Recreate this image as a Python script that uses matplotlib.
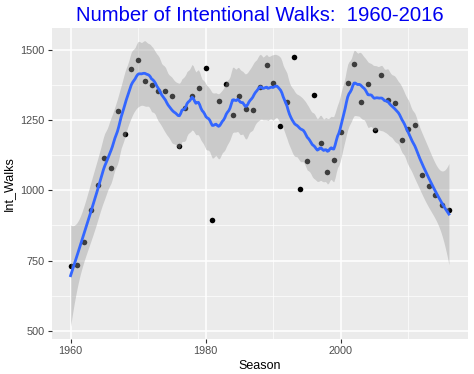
import numpy as np
import matplotlib.pyplot as plt
from matplotlib.ticker import MultipleLocator, FixedLocator

seasons = np.arange(1960, 2017)
int_walks = np.array([
    729, 734, 817, 929, 1018, 1115, 1079, 1283, 1201, 1432,
    1463, 1390, 1374, 1355, 1353, 1337, 1158, 1295, 1337, 1366,
    1436, 894, 1318, 1379, 1269, 1337, 1288, 1286, 1367, 1447,
    1384, 1228, 1316, 1476, 1006, 1104, 1341, 1168, 1066, 1107,
    1209, 1384, 1451, 1315, 1380, 1215, 1410, 1323, 1311, 1179,
    1218, 1231, 1054, 1017, 984, 949, 930,
])

title = "Number of Intentional Walks:  1960-2016"
span = 0.2

plt.rcParams['font.family'] = ['Liberation Sans', 'DejaVu Sans']


def loess_matrix(x, xs, span, degree=2):
    """filas del operador lineal de loess (pesos tricubo, ajuste local cuadratico)"""
    n = len(x)
    q = int(np.floor(n * span))
    L = np.zeros((len(xs), n))
    for i, x0 in enumerate(xs):
        d = np.abs(x - x0)
        h = np.sort(d)[q - 1]
        w = np.clip(1 - (d / h) ** 3, 0, None) ** 3
        X = np.vander(x - x0, degree + 1, increasing=True)
        W = np.diag(w)
        A = X.T @ W @ X
        L[i] = np.linalg.solve(A, X.T @ W)[0]
    return L


x = seasons.astype(float)
xs = np.linspace(x.min(), x.max(), 300)
L_data = loess_matrix(x, x, span)
L_grid = loess_matrix(x, xs, span)

fit = L_grid @ int_walks
resid = int_walks - L_data @ int_walks
M = np.eye(len(x)) - L_data
delta1 = np.trace(M.T @ M)
sigma = np.sqrt(np.sum(resid ** 2) / delta1)
se = sigma * np.sqrt(np.sum(L_grid ** 2, axis=1))
t_val = 2.02

fig = plt.figure(figsize=(4.74, 3.74), dpi=100)
ax = fig.add_axes([0.109, 0.094, 0.878, 0.831])
ax.set_facecolor('#EBEBEB')
for s in ax.spines.values():
    s.set_visible(False)

# como en ggplot: puntos primero, la banda semitransparente encima
ax.scatter(seasons, int_walks, s=16, color='black', lw=0, zorder=2)
ax.fill_between(xs, fit - t_val * se, fit + t_val * se, color='#999999', alpha=0.4, lw=0, zorder=3)
ax.plot(xs, fit, color='#3366FF', lw=2.0, zorder=4)

ax.set_xlim(1957.2, 2018.8)
ax.set_ylim(471, 1578)
ax.xaxis.set_major_locator(FixedLocator([1960, 1980, 2000]))
ax.xaxis.set_minor_locator(FixedLocator([1970, 1990, 2010]))
ax.yaxis.set_major_locator(MultipleLocator(250))
ax.yaxis.set_minor_locator(MultipleLocator(125))
ax.grid(which='major', color='white', lw=1.1)
ax.grid(which='minor', color='white', lw=0.5)
ax.set_axisbelow(True)
ax.tick_params(which='major', length=3, color='#333333', labelsize=7.8, labelcolor='#4D4D4D', pad=2)
ax.tick_params(which='minor', length=0)

ax.set_xlabel('Season', fontsize=9, labelpad=3)
ax.set_ylabel('Int_Walks', fontsize=9, labelpad=4)
ax.set_title(title, color='#0000F0', fontsize=14.6, pad=5)

fig.savefig('out.png', dpi=100)
